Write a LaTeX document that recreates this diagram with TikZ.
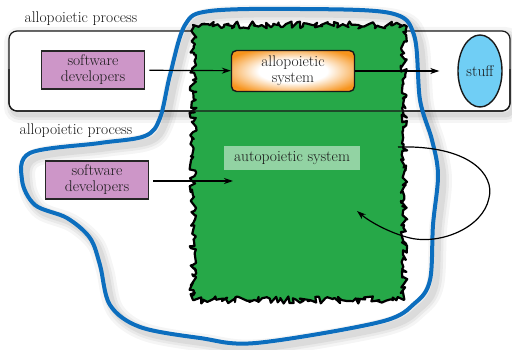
\documentclass[tikz,border=0pt]{standalone}
\usepackage{tikz}
\usetikzlibrary{positioning,arrows.meta,shapes.geometric,decorations.pathmorphing}

\definecolor{devpink}{RGB}{205,150,200}
\definecolor{autogreen}{RGB}{38,168,72}
\definecolor{sysorange}{RGB}{247,148,29}
\definecolor{stuffblue}{RGB}{112,206,245}
\definecolor{loopblue}{RGB}{12,110,190}
\pgfdeclareradialshading{sysglow}{\pgfpoint{0bp}{0bp}}{color(0bp)=(white); color(14bp)=(white); color(30bp)=(sysorange); color(100bp)=(sysorange)}

\begin{document}
\begin{tikzpicture}[x=1pt, y=-1pt]
        \tikzstyle{every node}=[text=black!90, font=\fontsize{15.5}{16}\selectfont, align=center]
        \tikzstyle{devbox}=[draw=black!85, line width=1.6pt, fill=devpink, minimum width=103pt, minimum height=38pt, inner sep=1pt]
        \tikzstyle{sysbox}=[draw=black!90, line width=1.4pt, shading=sysglow, rounded corners=5pt, minimum width=123pt, minimum height=41pt, inner sep=1pt]
        \tikzstyle{arr}=[line width=1.2pt, -{Stealth[length=9pt, width=6pt]}]
        \tikzset{blueloop/.style={insert path={plot[smooth cycle, tension=.55] coordinates {
            (22,180) (30,153) (100,143) (145,136) (160,118) (170,75) (185,25) (210,11) (300,9) (390,13)
            (414,35) (420,100) (432,140) (438,175) (433,225) (430,280) (415,303) (380,322) (256,343)
            (200,338) (140,327) (110,305) (100,265) (90,238) (67,218) (35,205)}}}}

        \useasboundingbox (0,0) rectangle (512,350);

        \foreach \w/\o in {16/.04, 10/.05, 5/.06}
            \draw[black, opacity=\o, line width=\w pt, rounded corners=8pt, shift={(3,4)}] (9,31) rectangle (510,111);
        \fill[white, rounded corners=8pt] (9,31) rectangle (510,111);
        \draw[black!90, line width=1.2pt, rounded corners=8pt] (9,31) rectangle (510,111);

        \foreach \w/\o in {18/.04, 12/.05, 7/.06}
            \draw[black, opacity=\o, line width=\w pt, shift={(5,5)}, blueloop];

        \pgfmathsetseed{7}
        \fill[autogreen, draw=black, line width=2.2pt, line join=round, decorate,
            decoration={random steps, segment length=2.5pt, amplitude=3.5pt}] (193,25) rectangle (404,300);

        \begin{scope}
            \clip (0,70) rectangle (512,120);
            \draw[black!90, line width=1.2pt, rounded corners=8pt] (9,31) rectangle (510,111);
        \end{scope}
        \draw[loopblue, line width=4pt, blueloop];

        \node (proc1) at (81,19) {allopoietic process};
        \node (proc2) at (76,131) {allopoietic process};

        \node (dev1) [devbox] at (93,70) {software\\developers};
        \node (sys) [sysbox] at (293,71) {allopoietic\\system};
        \node (stuff) [ellipse, draw=black!90, line width=1.4pt, fill=stuffblue, minimum width=44pt, minimum height=72pt, inner sep=0pt] at (480,71) {stuff};
        \node (dev2) [devbox] at (97,180) {software\\developers};
        \node (auto) [fill=white, fill opacity=.5, text opacity=1, minimum width=136pt, minimum height=24pt, inner sep=1pt] at (292,158) {autopoietic system};

        \coordinate (into) at (233,181);
        \coordinate (loopa) at (398,147);
        \coordinate (loopb) at (357,211);

        \draw[arr, shorten <=4pt] (dev1) -- (sys);
        \draw[arr, shorten >=18pt] (sys) -- (stuff);
        \draw[arr, shorten <=4pt] (dev2.east |- into) -- (into);
        \draw[arr] (loopa) .. controls (470,145) and (495,175) .. (489,198)
            .. controls (483,228) and (440,245) .. (410,238)
            .. controls (390,233) and (370,222) .. (loopb);

\end{tikzpicture}
\end{document}
